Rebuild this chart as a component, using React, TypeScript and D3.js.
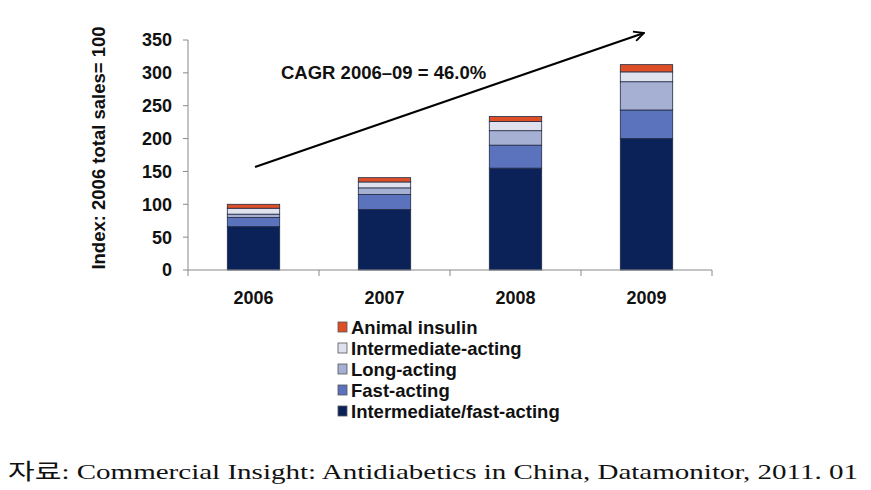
import React from "react";
import * as d3 from "d3";

const years = ["2006", "2007", "2008", "2009"];
const seriesNames = [
  "Intermediate/fast-acting",
  "Fast-acting",
  "Long-acting",
  "Intermediate-acting",
  "Animal insulin",
];
const interFast = [66, 92, 155, 200];
const fastActing = [14, 23, 35, 43.5];
const longActing = [5, 10, 22, 43];
const intermediate = [9, 9, 14, 15];
const animal = [6, 6.5, 7.5, 11];
const colors = ["#0b2259", "#5b72bd", "#a6b0d3", "#dfe2ee", "#de4f28"];
const yTicks = [0, 50, 100, 150, 200, 250, 300, 350];
const legendOrder = [4, 3, 2, 1, 0];

const W = 871;
const H = 490;
const left = 188;
const right = 712;
const top = 40;
const bottom = 270;

export default function App() {
  const data = years.map((y, i) => ({
    year: y,
    s0: interFast[i],
    s1: fastActing[i],
    s2: longActing[i],
    s3: intermediate[i],
    s4: animal[i],
  }));
  const keys = ["s0", "s1", "s2", "s3", "s4"];
  const stacked = d3.stack<any>().keys(keys)(data);
  const x = d3.scaleBand().domain(years).range([left, right]).paddingInner(0.6).paddingOuter(0.3);
  const xb = d3.scaleBand().domain(years).range([left, right]);
  const y = d3.scaleLinear().domain([0, 350]).range([bottom, top]);
  const font = "Arial, 'Liberation Sans', sans-serif";

  return (
    <svg width={W} height={H} style={{ position: "absolute", left: 0, top: 0, background: "#fff" }}>
      <defs>
        <marker id="ah" viewBox="0 0 12 12" refX="11" refY="6" markerWidth="12" markerHeight="12" markerUnits="userSpaceOnUse" orient="auto">
          <path d="M1,1 L11,6 L1,11" fill="none" stroke="#000" strokeWidth="1.8" />
        </marker>
      </defs>
      {stacked.map((layer, li) =>
        layer.map((d, i) => (
          <rect
            key={`${li}-${i}`}
            x={x(years[i])}
            y={y(d[1])}
            width={x.bandwidth()}
            height={y(d[0]) - y(d[1])}
            fill={colors[li]}
            stroke="#222a44"
            strokeWidth={0.8}
          />
        ))
      )}
      <line x1={left} x2={left} y1={top} y2={bottom} stroke="#888" strokeWidth={1} />
      {yTicks.map((t) => (
        <g key={t}>
          <line x1={left - 5} x2={left} y1={y(t)} y2={y(t)} stroke="#888" />
          <text x={172} y={y(t)} dy="0.36em" textAnchor="end" fontFamily={font} fontWeight="bold" fontSize={18} fill="#111">
            {t}
          </text>
        </g>
      ))}
      <line x1={left} x2={right} y1={bottom} y2={bottom} stroke="#888" />
      {[...years.map((yy) => xb(yy) as number), right].map((v, i) => (
        <line key={i} x1={v} x2={v} y1={bottom} y2={bottom + 6} stroke="#888" />
      ))}
      {years.map((yy) => (
        <text key={yy} x={(xb(yy) as number) + xb.bandwidth() / 2} y={298} dy="0.36em" textAnchor="middle" fontFamily={font} fontWeight="bold" fontSize={18} fill="#111">
          {yy}
        </text>
      ))}
      <text transform="translate(105,148) rotate(-90)" textAnchor="middle" fontFamily={font} fontWeight="bold" fontSize={18.5} fill="#111">
        Index: 2006 total sales= 100
      </text>
      <line x1={255} y1={167} x2={644} y2={33} stroke="#000" strokeWidth={2.2} markerEnd="url(#ah)" />
      <text x={281} y={79} fontFamily={font} fontWeight="bold" fontSize={18.5} fill="#111">
        CAGR 2006–09 = 46.0%
      </text>
      {legendOrder.map((si, k) => (
        <g key={si}>
          <rect x={338} y={327 + k * 21 - 5} width={9} height={10} fill={colors[si]} stroke="#555" strokeWidth={0.8} />
          <text x={351} y={327 + k * 21} dy="0.36em" fontFamily={font} fontWeight="bold" fontSize={18.5} fill="#111">
            {seriesNames[si]}
          </text>
        </g>
      ))}
      <text x={8} y={479} fontFamily="'Liberation Serif', 'Noto Sans CJK KR', serif" fontSize={22} fill="#111" textLength={850} lengthAdjust="spacingAndGlyphs">
        자료: Commercial Insight: Antidiabetics in China, Datamonitor, 2011. 01
      </text>
    </svg>
  );
}
